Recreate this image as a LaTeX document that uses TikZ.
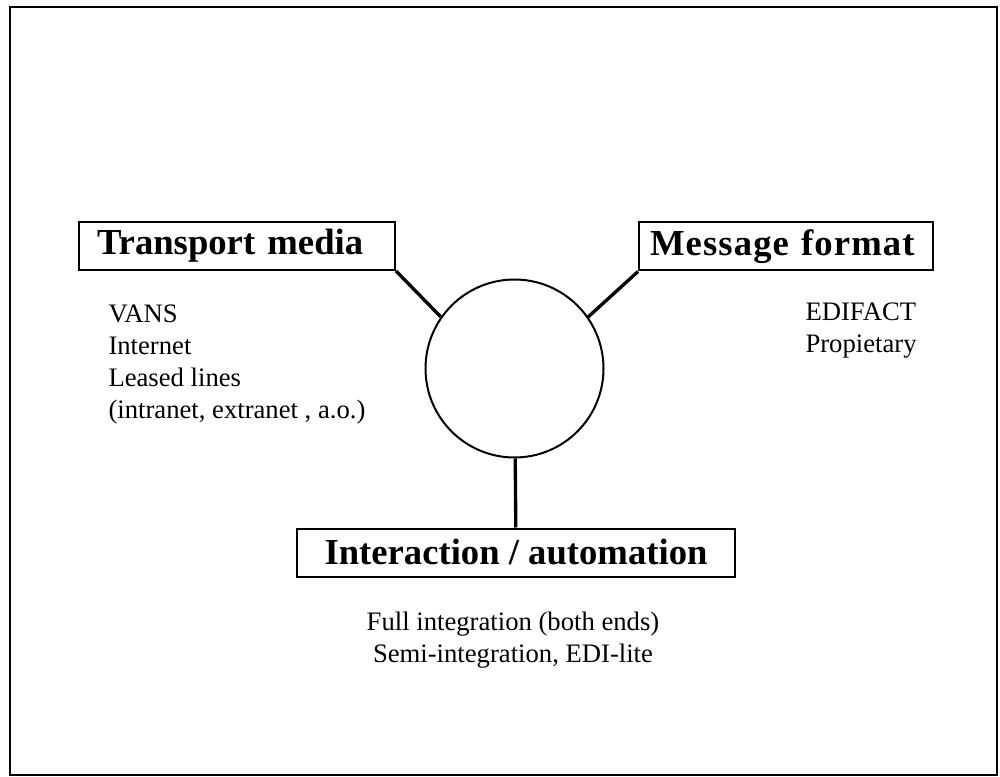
\documentclass[tikz,border=0pt]{standalone}
\usepackage{fontspec}
\setmainfont{Liberation Serif}

\tikzset{every picture/.style={line width=0.75pt}}
\tikzset{
  headbox/.style={draw, line width=1.5pt, font=\fontsize{27.5}{30}\selectfont\bfseries, minimum height=36pt, inner ysep=0pt},
  listtext/.style={font=\fontsize{20}{24}\selectfont, inner sep=0pt},
  spoke/.style={line width=2.5pt}
}

\begin{document}
\begin{tikzpicture}[x=0.75pt,y=0.75pt,yscale=-1,xscale=1]
\useasboundingbox (0,0) rectangle (1000,777);
%Frame
\draw [line width=1.5pt] (10,7) rectangle (997,775);
%Circle
\node (hub) [draw, circle, line width=1.5pt, minimum size=133.5pt, inner sep=0pt] at (514.5,368.5) {};

% Heading boxes
\node (transport) [headbox, inner xsep=13.5pt, text width=210pt, align=left] at (237,246) {Transport media};
\node (message) [headbox, inner xsep=8.25pt, text width=204pt, align=left] at (786,246.5) {\addfontfeatures{LetterSpace=3}Message format};
\node (interaction) [headbox, minimum width=328.5pt] at (516,552.5) {Interaction / automation};

%Spokes
\draw [spoke] (transport.south east) -- (hub.145);
\draw [spoke] (message.south west) -- (hub.35);
\draw [spoke] (hub) -- (interaction);

% Text Node
\node (transportlist) [listtext, anchor=north west, align=left] at (108,304) {VANS\\Internet\\Leased lines\\(intranet, extranet , a.o.)};
% Text Node
\node (messagelist) [listtext, anchor=north west, align=left] at (805,302) {EDIFACT\\Propietary};
% Text Node
\node (interactionlist) [listtext, anchor=north, align=center] at (513,611) {Full integration (both ends)\\Semi-integration, EDI-lite};

\end{tikzpicture}
\end{document}
